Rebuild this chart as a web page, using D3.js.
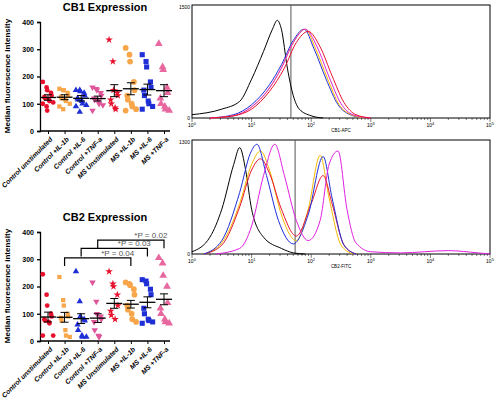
<!DOCTYPE html>
<html><head><meta charset="utf-8">
<script src="https://cdn.jsdelivr.net/npm/d3@7"></script>
<style>body{margin:0;background:#fff}text{font-family:Arial,"Liberation Sans",sans-serif}</style>
</head><body><svg id="c" width="497" height="408"></svg>
<script>
// dot plot data
var groups = ["Control unstimulated","Control +IL-1b","Control +IL-6","Control +TNF-a","MS Unstimulated","MS +IL-1b","MS +IL-6","MS +TNF-a"];
var colors = ["#e8112d","#f7a64a","#1f2fd6","#e0559a","#e8112d","#f7a64a","#1f2fd6","#e8679f"];
var shapes = [d3.symbolCircle,d3.symbolSquare,d3.symbolTriangle,"down",d3.symbolStar,d3.symbolCircle,d3.symbolSquare,d3.symbolTriangle];
var cb1 = [[180,160,150,140,130,125,120,115,110,105,100,90,75],[155,150,150,140,130,125,120,115,110,100,90,80],[150,150,145,140,130,120,115,110,100,95,90,70],[160,155,150,140,130,120,115,110,100,95,75],[335,255,150,140,130,115,100,85,80],[305,280,255,180,150,130,115,100,90,80,75],[280,255,235,180,160,150,130,110,100,90,80],[320,235,225,160,140,120,100,90,80,75]];
var cb1Mean = [123,124,120,119,148,155,152,148], cb1Sem = [10,9,10,9,22,22,20,22];
var cb2 = [[245,170,130,100,90,80,75,70,65,20,20],[235,150,130,100,90,85,75,40,20,15],[255,145,90,80,75,60,40,20,15,15],[215,145,100,90,80,70,40,20,15],[255,210,200,170,130,110,95,80],[215,210,205,190,170,130,115,100,80,70],[225,220,210,190,170,120,100,80,75,70,65],[305,285,240,200,140,120,100,80,70,65]];
var cb2Mean = [88,87,82,84,138,135,142,153], cb2Sem = [18,18,18,16,18,14,20,20];
var brackets = [[1,5,"*P = 0.04"],[2,6,"*P = 0.03"],[3,7,"*P = 0.02"]];
var brY = [305,340,370];

// histogram data: [log10 intensity, fraction of max]
var cb1Black = [[0,0.03],[0.5,0.08],[0.8,0.15],[1.0,0.35],[1.2,0.6],[1.35,0.8],[1.43,0.88],[1.5,0.8],[1.6,0.45],[1.7,0.2],[1.8,0.08],[2.0,0.02],[2.2,0]];
var cb1Cols = [
 ["#1f2fd6",[[0.3,0],[0.7,0.03],[1.0,0.12],[1.3,0.3],[1.5,0.48],[1.7,0.7],[1.88,0.8],[2.05,0.62],[2.25,0.35],[2.45,0.12],[2.65,0.03],[2.9,0]]],
 ["#f5b800",[[0.3,0],[0.7,0.02],[1.0,0.1],[1.3,0.27],[1.5,0.45],[1.7,0.68],[1.9,0.8],[2.07,0.63],[2.27,0.36],[2.47,0.12],[2.67,0.03],[2.9,0]]],
 ["#e020e0",[[0.3,0],[0.7,0.02],[1.0,0.1],[1.3,0.27],[1.5,0.45],[1.7,0.68],[1.9,0.8],[2.1,0.64],[2.3,0.37],[2.5,0.13],[2.7,0.03],[3.0,0]]],
 ["#e8112d",[[0.3,0],[0.7,0.02],[1.0,0.08],[1.3,0.24],[1.55,0.45],[1.75,0.68],[1.95,0.78],[2.15,0.64],[2.35,0.38],[2.55,0.14],[2.75,0.03],[3.0,0]]]];
var cb2Lines = [
 ["#000",[[0,0.02],[0.3,0.15],[0.5,0.4],[0.7,0.8],[0.8,0.95],[0.9,0.75],[1.0,0.4],[1.2,0.15],[1.5,0.05],[1.7,0.01],[1.9,0]]],
 ["#f5b800",[[0.2,0],[0.5,0.1],[0.8,0.45],[1.0,0.8],[1.15,0.92],[1.3,0.75],[1.5,0.35],[1.75,0.12],[1.95,0.4],[2.15,0.88],[2.3,0.5],[2.5,0.08],[2.7,0]]],
 ["#e8112d",[[0.2,0],[0.5,0.08],[0.8,0.42],[1.0,0.75],[1.15,0.85],[1.3,0.72],[1.5,0.4],[1.75,0.16],[2.0,0.45],[2.2,0.7],[2.35,0.45],[2.55,0.08],[2.75,0]]],
 ["#1f2fd6",[[0.2,0],[0.5,0.12],[0.8,0.55],[0.98,0.9],[1.09,0.98],[1.25,0.7],[1.45,0.3],[1.7,0.09],[1.95,0.35],[2.2,0.87],[2.35,0.5],[2.55,0.08],[2.75,0]]],
 ["#e020e0",[[0.4,0],[0.8,0.05],[1.0,0.25],[1.2,0.7],[1.39,0.98],[1.55,0.7],[1.75,0.3],[1.95,0.12],[2.15,0.3],[2.3,0.8],[2.45,0.92],[2.6,0.4],[2.75,0.1],[3.0,0.02],[3.5,0.01],[4.3,0.03],[4.8,0.01],[5,0]]]];

var svg = d3.select("#c");

function dotPlot(top, title, vals, means, sems) {
  var x = d3.scalePoint().domain(groups).range([48,164]);
  var y = d3.scaleLinear().domain([0,400]).range([top+110, top+1]);
  var g = svg.append("g");
  g.append("text").attr("x",105).attr("y",top-10).attr("text-anchor","middle").attr("font-size",11).attr("font-weight","bold").text(title);
  g.append("g").attr("transform","translate(40,0)").call(d3.axisLeft(y).tickValues([0,100,200,300,400]).tickSize(3))
    .call(a=>a.selectAll("text").attr("font-size",7).attr("font-weight","bold"))
    .call(a=>a.selectAll("path,line").attr("stroke-width",1.3));
  g.append("g").attr("transform","translate(0,"+(top+110)+")").call(d3.axisBottom(x).tickSize(3).tickFormat(""))
    .call(a=>a.select(".domain").attr("d","M40,0H170").attr("stroke-width",1.3));
  g.append("text").attr("transform","translate(10,"+(top+55)+") rotate(-90)").attr("text-anchor","middle").attr("font-size",8).attr("font-weight","bold").text("Median fluorescence intensity");
  groups.forEach(function(gr,i){
    g.append("text").attr("transform","translate("+(x(gr)+2)+","+(top+116)+") rotate(-45)").attr("text-anchor","end").attr("font-size",6.8).attr("font-weight","bold").attr("font-style","italic").attr("dy","0.6em").text(gr);
    vals[i].forEach(function(v,j){
      var off = ((j%5)-2)*2.2 + (j%2?0.8:-0.8);
      var sh = shapes[i]==="down" ? d3.symbolTriangle : shapes[i];
      g.append("path").attr("d",d3.symbol().type(sh).size(i>=5?26:18)())
        .attr("transform","translate("+(x(gr)+off)+","+y(v)+")"+(shapes[i]==="down"?" rotate(180)":""))
        .attr("fill",colors[i]);
    });
    var cx=x(gr);
    g.append("line").attr("x1",cx-8).attr("x2",cx+8).attr("y1",y(means[i])).attr("y2",y(means[i])).attr("stroke","#000").attr("stroke-width",1.3);
    g.append("line").attr("x1",cx).attr("x2",cx).attr("y1",y(means[i]-sems[i])).attr("y2",y(means[i]+sems[i])).attr("stroke","#000");
    [means[i]-sems[i],means[i]+sems[i]].forEach(function(e){
      g.append("line").attr("x1",cx-4).attr("x2",cx+4).attr("y1",y(e)).attr("y2",y(e)).attr("stroke","#000");
    });
  });
  return {x:x,y:y,g:g};
}

dotPlot(21,"CB1 Expression",cb1,cb1Mean,cb1Sem);
var p2 = dotPlot(231,"CB2 Expression",cb2,cb2Mean,cb2Sem);
brackets.forEach(function(b,k){
  var x1=p2.x(groups[b[0]]), x2=p2.x(groups[b[1]]), yy=p2.y(brY[k]);
  p2.g.append("path").attr("d","M"+x1+","+p2.y(brY[k]-30)+"V"+yy+"H"+x2+"V"+p2.y(brY[k]-30)).attr("fill","none").attr("stroke","#000").attr("stroke-width",1.2);
  p2.g.append("text").attr("x",(x1+x2)/2+20).attr("y",yy-2).attr("text-anchor","middle").attr("font-size",8).attr("fill","#555").text(b[2]);
});

function histo(top, bottom, maxLbl, axisLbl, lines, gate) {
  var x = d3.scaleLinear().domain([0,5]).range([192,490]);
  var y = d3.scaleLinear().domain([0,1]).range([bottom, top+2]);
  var g = svg.append("g");
  g.append("rect").attr("x",192).attr("y",top).attr("width",298).attr("height",bottom-top).attr("fill","none").attr("stroke","#000");
  var ticks=[];
  for (var d=0; d<5; d++) for (var m=1; m<10; m++) ticks.push(d+Math.log10(m));
  ticks.push(5);
  ticks.forEach(function(t){
    var major = Math.abs(t-Math.round(t))<1e-9;
    g.append("line").attr("x1",x(t)).attr("x2",x(t)).attr("y1",bottom).attr("y2",bottom+(major?4:2)).attr("stroke","#000").attr("stroke-width",0.5);
  });
  for (var e=0;e<=5;e++){
    var t=g.append("text").attr("x",x(e)).attr("y",bottom+9).attr("text-anchor","middle").attr("font-size",5);
    t.append("tspan").text("10"); t.append("tspan").attr("dy",-2).attr("font-size",4).text(e);
  }
  g.append("text").attr("x",x(2.5)).attr("y",bottom+14).attr("text-anchor","middle").attr("font-size",4.5).text(axisLbl);
  g.append("text").attr("x",190).attr("y",top+4).attr("text-anchor","end").attr("font-size",5).text(maxLbl);
  g.append("text").attr("x",190).attr("y",bottom+2).attr("text-anchor","end").attr("font-size",5).text("0");
  g.append("line").attr("x1",x(gate)).attr("x2",x(gate)).attr("y1",top).attr("y2",bottom).attr("stroke","#555").attr("stroke-width",1);
  var line = d3.line().x(d=>x(d[0])).y(d=>y(d[1])).curve(d3.curveMonotoneX);
  lines.forEach(function(l){
    g.append("path").attr("d",line(l[1])).attr("fill","none").attr("stroke",l[0]).attr("stroke-width",1);
  });
}
histo(5,118,"1500","CB1-APC",[["#000",cb1Black]].concat(cb1Cols),1.66);
histo(140,254,"1300","CB2-FITC",cb2Lines,1.73);
</script></body></html>
